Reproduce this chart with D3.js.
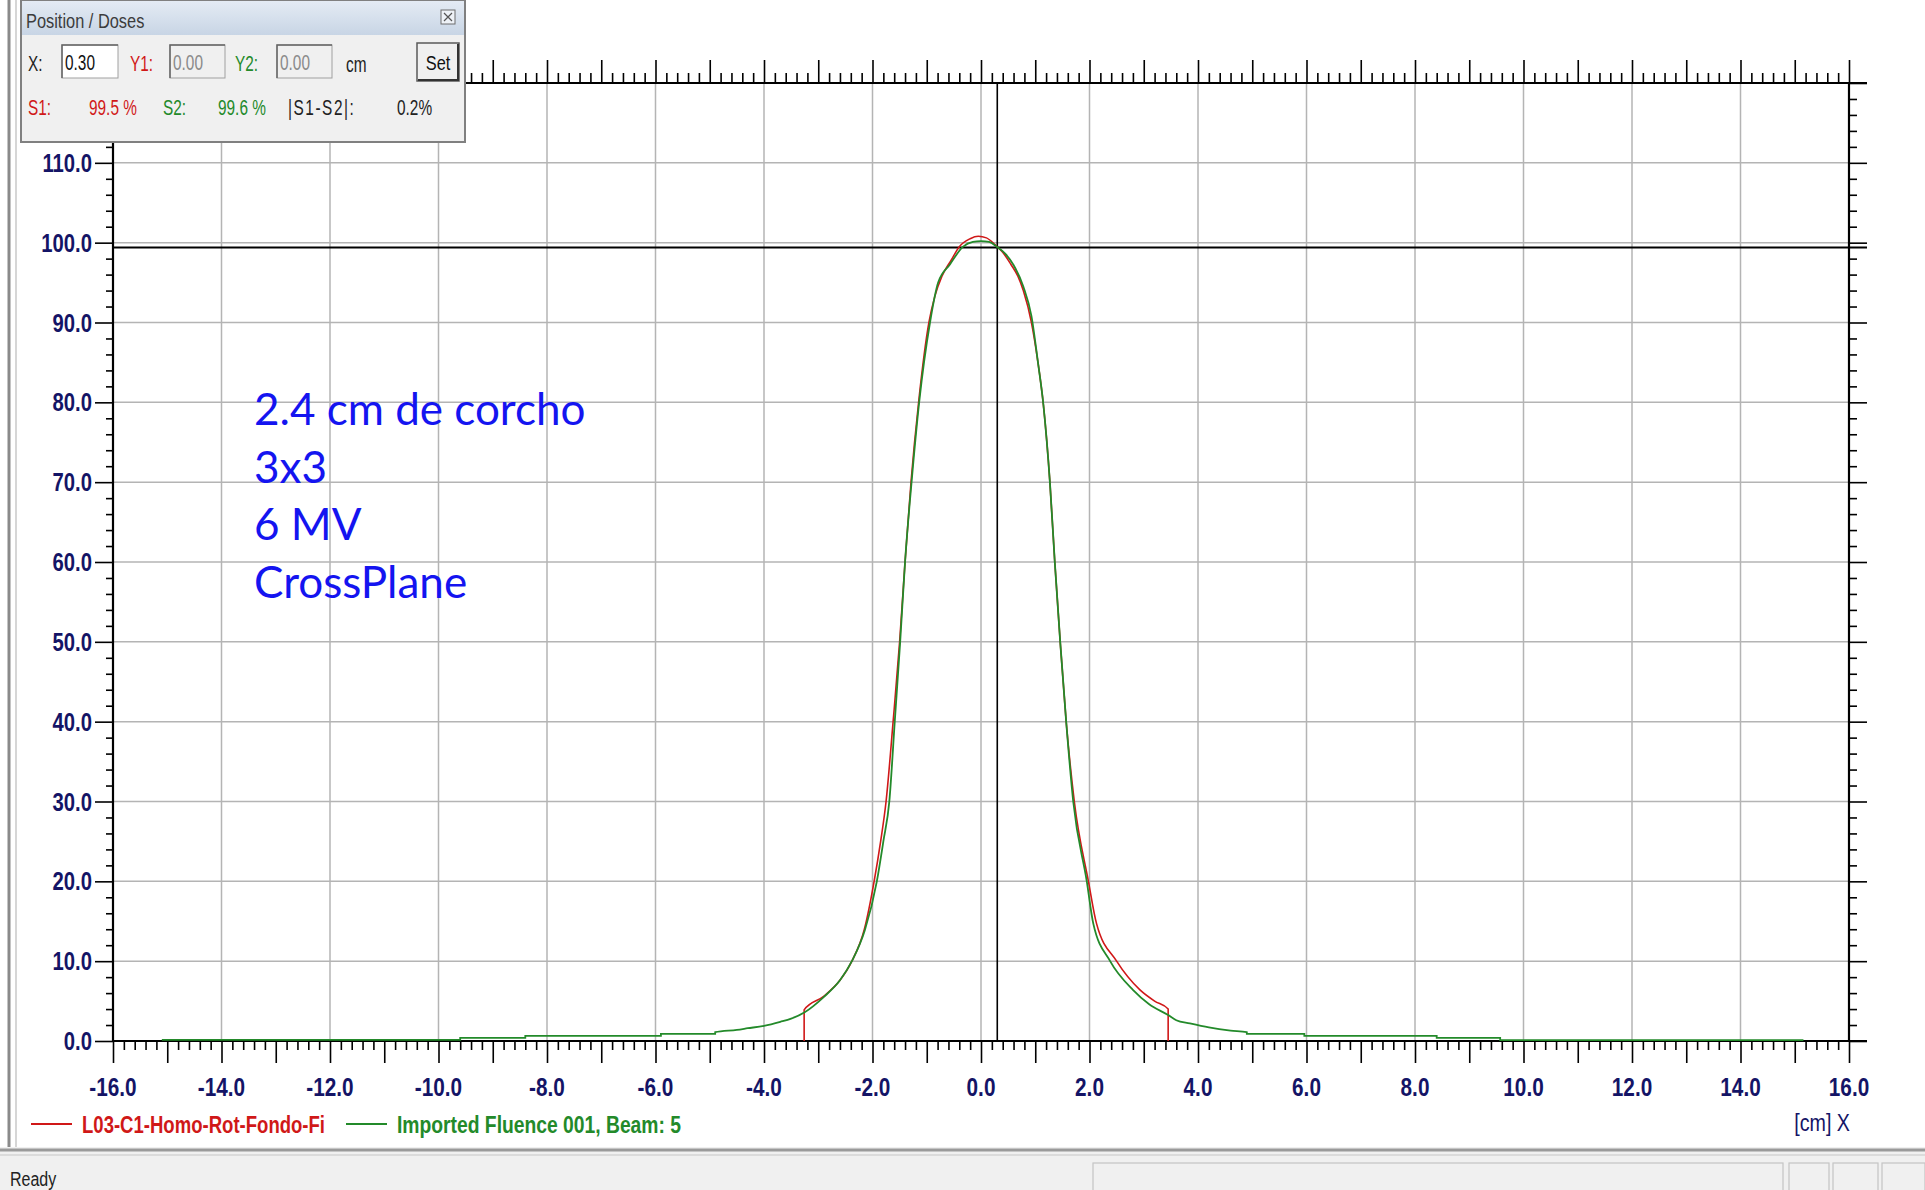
<!DOCTYPE html>
<html><head><meta charset="utf-8">
<script src="https://cdn.jsdelivr.net/npm/d3@7"></script>
<style>
html,body{margin:0;padding:0;background:#fff;overflow:hidden;}
svg{display:block;}
</style></head><body>
<svg id="c" width="1925" height="1190"></svg>
<script>
// ---------- data ----------
const xTicks = [-16,-14,-12,-10,-8,-6,-4,-2,0,2,4,6,8,10,12,14,16];
const xTickLabels = ["-16.0","-14.0","-12.0","-10.0","-8.0","-6.0","-4.0","-2.0","0.0","2.0","4.0","6.0","8.0","10.0","12.0","14.0","16.0"];
const yTicks = [0,10,20,30,40,50,60,70,80,90,100,110];
const yTickLabels = ["0.0","10.0","20.0","30.0","40.0","50.0","60.0","70.0","80.0","90.0","100.0","110.0"];

const seriesNames = ["L03-C1-Homo-Rot-Fondo-Fi", "Imported Fluence 001, Beam: 5"];

// Red measured profile (cm, %)
const redX = [-3.26,-3.26,-2.9,-2.6,-2.38,-2.15,-1.97,-1.85,-1.75,-1.62,-1.50,-1.40,-1.29,-1.15,-0.96,-0.85,-0.72,-0.55,-0.4,-0.2,-0.05,0.1,0.25,0.4,0.55,0.68,0.78,0.93,1.05,1.15,1.27,1.36,1.46,1.57,1.72,1.98,2.13,2.5,2.93,3.2,3.45,3.45];
const redY = [0,3.9,5.6,7.6,10,14,20,25,30,40,50,60,70,80,90,93.3,95.8,97.8,99.5,100.5,100.8,100.6,99.8,98.8,97.3,95.8,94,90,85,79.7,70,60,50,40,30,20,14.7,10,6.4,5,4.0,0];

// Green imported fluence profile (cm, %)
const greenX = [-15.1,-9.6,-9.6,-8.4,-8.4,-5.9,-5.9,-4.9,-4.9,-4.5,-4.3,-4.0,-3.7,-3.5,-3.25,-2.9,-2.6,-2.38,-2.14,-1.92,-1.80,-1.69,-1.59,-1.49,-1.40,-1.28,-1.14,-0.94,-0.79,-0.57,-0.33,-0.15,0.0,0.15,0.29,0.45,0.60,0.78,0.93,1.05,1.15,1.27,1.36,1.46,1.57,1.70,1.95,2.07,2.38,2.8,3.1,3.45,3.6,3.85,4.2,4.6,4.9,4.9,5.96,5.96,8.4,8.4,9.57,9.57,15.16];
const greenY = [0.15,0.15,0.4,0.4,0.65,0.65,0.9,0.9,1.1,1.4,1.6,1.9,2.4,2.8,3.6,5.5,7.6,10,13.9,20,25,30,40,50,60,70,80,90,95,97.3,99.5,100.1,100.2,100.1,99.5,98.6,97.2,94.5,90.8,85,79.7,70,60,50,40,30,20,14.7,10,6.4,4.6,3.25,2.6,2.2,1.7,1.3,1.1,0.9,0.9,0.65,0.65,0.4,0.4,0.12,0.12];

const cursorX = 0.30;
const cursorY = 99.4;

const annotationLines = ["2.4 cm de corcho", "3x3", "6 MV", "CrossPlane"];

// ---------- drawing ----------
const svg = d3.select("#c");
const SANS = "'Liberation Sans', Arial, sans-serif";
const navy = "#141466";
const RED = "#d01818";
const GREEN = "#238a2a";

// narrow text helper (horizontally condensed Liberation Sans)
function ntext(g, xp, yp, s, o){
  o = o || {};
  const el = g.append("text")
    .attr("transform",`translate(${xp},${yp}) scale(${o.sx||0.8},1)`)
    .attr("text-anchor",o.anchor||"start")
    .attr("font-family",SANS).attr("font-size",o.size||20)
    .attr("font-weight",o.bold?"bold":"normal")
    .attr("fill",o.fill||"#222").text(s);
  if (o.len) el.attr("textLength",o.len).attr("lengthAdjust","spacing");
  return el;
}

const x = d3.scaleLinear().domain([-16,16]).range([113,1849]);
const y = d3.scaleLinear().domain([0,120]).range([1041,83]);

svg.append("rect").attr("width",1925).attr("height",1190).attr("fill","#fff");

// grid
const gGrid = svg.append("g").attr("stroke","#b4b4b4").attr("stroke-width",1.5);
gGrid.selectAll("line.v").data(xTicks.filter(d=>d>-16 && d<16)).join("line")
  .attr("x1",d=>x(d)).attr("x2",d=>x(d)).attr("y1",y(0)).attr("y2",y(120));
gGrid.selectAll("line.h").data(yTicks.filter(d=>d>0)).join("line")
  .attr("x1",x(-16)).attr("x2",x(16)).attr("y1",d=>y(d)).attr("y2",d=>y(d));

// axes ticks via d3 axes
const majorX = d3.range(-16,17);
const minorX = d3.range(-80,81).filter(i=>i%5!==0).map(i=>i/5);
const majorY = yTicks;
const minorY = d3.range(0,61).filter(i=>i%5!==0).map(i=>i*2);

function styleAxis(g){
  g.select(".domain").remove();
  g.selectAll(".tick line").attr("stroke","#000").attr("stroke-width",1.6);
  g.selectAll("text").remove();
}
svg.append("g").attr("transform",`translate(0,${y(0)})`)
  .call(d3.axisBottom(x).tickValues(majorX).tickSize(22).tickSizeOuter(0)).call(styleAxis);
svg.append("g").attr("transform",`translate(0,${y(0)})`)
  .call(d3.axisBottom(x).tickValues(minorX).tickSize(9).tickSizeOuter(0)).call(styleAxis);
svg.append("g").attr("transform",`translate(0,${y(120)})`)
  .call(d3.axisTop(x).tickValues(majorX).tickSize(23).tickSizeOuter(0)).call(styleAxis);
svg.append("g").attr("transform",`translate(0,${y(120)})`)
  .call(d3.axisTop(x).tickValues(minorX).tickSize(10).tickSizeOuter(0)).call(styleAxis);
svg.append("g").attr("transform",`translate(${x(-16)},0)`)
  .call(d3.axisLeft(y).tickValues(majorY).tickSize(18).tickSizeOuter(0)).call(styleAxis);
svg.append("g").attr("transform",`translate(${x(-16)},0)`)
  .call(d3.axisLeft(y).tickValues(minorY).tickSize(7).tickSizeOuter(0)).call(styleAxis);
svg.append("g").attr("transform",`translate(${x(16)},0)`)
  .call(d3.axisRight(y).tickValues(majorY.concat([120])).tickSize(18).tickSizeOuter(0)).call(styleAxis);
svg.append("g").attr("transform",`translate(${x(16)},0)`)
  .call(d3.axisRight(y).tickValues(minorY).tickSize(8).tickSizeOuter(0)).call(styleAxis);

// axis lines
const gAx = svg.append("g").attr("stroke","#000").attr("stroke-width",2.2);
gAx.append("line").attr("x1",x(-16)).attr("x2",x(16)+18).attr("y1",y(0)).attr("y2",y(0));
gAx.append("line").attr("x1",x(-16)).attr("x2",x(16)+18).attr("y1",y(120)).attr("y2",y(120));
gAx.append("line").attr("x1",x(-16)).attr("x2",x(-16)).attr("y1",y(120)).attr("y2",y(0));
gAx.append("line").attr("x1",x(16)).attr("x2",x(16)).attr("y1",y(120)).attr("y2",y(0));

// tick labels
const gxl = svg.append("g");
xTicks.forEach((d,i)=>ntext(gxl, x(d), y(0)+55, xTickLabels[i], {anchor:"middle", size:25, bold:true, fill:navy, sx:0.83}));
const gyl = svg.append("g");
yTicks.forEach((d,i)=>ntext(gyl, x(-16)-21, y(d)+9, yTickLabels[i], {anchor:"end", size:25, bold:true, fill:navy, sx:0.81}));
ntext(svg, x(16)+1, 1131, "[cm] X", {anchor:"end", size:24, fill:navy, sx:0.82});

// cursor lines
svg.append("line").attr("x1",x(cursorX)).attr("x2",x(cursorX)).attr("y1",y(120)).attr("y2",y(0))
  .attr("stroke","#000").attr("stroke-width",1.6);
svg.append("line").attr("x1",x(-16)).attr("x2",x(16)+18).attr("y1",y(cursorY)).attr("y2",y(cursorY))
  .attr("stroke","#000").attr("stroke-width",2);

// curves
const line = d3.line().x(d=>x(d[0])).y(d=>y(d[1])).curve(d3.curveMonotoneX);
const greenData = greenX.map((v,i)=>[v,greenY[i]]);
const redData = redX.map((v,i)=>[v,redY[i]]);
svg.append("path").attr("d",line(redData)).attr("fill","none").attr("stroke",RED).attr("stroke-width",1.6);
svg.append("path").attr("d",line(greenData)).attr("fill","none").attr("stroke",GREEN).attr("stroke-width",1.8);

// annotation
svg.append("g").selectAll("text").data(annotationLines).join("text")
  .attr("x",254).attr("y",(d,i)=>425+i*57.5)
  .attr("font-family","Lato, 'Open Sans', sans-serif").attr("font-size",44).attr("fill","#1414f0")
  .text(d=>d);

// legend
const colors = [RED, GREEN];
const legX = [31, 346];
const legW = [243, 284];
const lg = svg.append("g");
seriesNames.forEach((n,i)=>{
  lg.append("line").attr("x1",legX[i]).attr("x2",legX[i]+41).attr("y1",1124).attr("y2",1124)
    .attr("stroke",colors[i]).attr("stroke-width",1.8);
  lg.append("text").attr("x",legX[i]+51).attr("y",1133)
    .attr("font-family",SANS).attr("font-weight","bold").attr("font-size",23)
    .attr("textLength",legW[i]).attr("lengthAdjust","spacingAndGlyphs")
    .attr("fill",colors[i]).text(n);
});

// window frame
svg.append("line").attr("x1",9).attr("x2",9).attr("y1",0).attr("y2",1152).attr("stroke","#8a8a8a").attr("stroke-width",3);
svg.append("line").attr("x1",16).attr("x2",16).attr("y1",0).attr("y2",1150).attr("stroke","#c8c8c8").attr("stroke-width",1.5);
svg.append("rect").attr("x",0).attr("y",1147).attr("width",1925).attr("height",43).attr("fill","#f0f0f0");
svg.append("line").attr("x1",0).attr("x2",1925).attr("y1",1150).attr("y2",1150).attr("stroke","#9a9a9a").attr("stroke-width",3);
svg.append("line").attr("x1",0).attr("x2",1925).attr("y1",1155).attr("y2",1155).attr("stroke","#d4d4d4").attr("stroke-width",1.5);
ntext(svg, 10, 1186, "Ready", {size:20, fill:"#222", sx:0.8});
[[1093,690],[1789,40],[1833,45],[1882,43]].forEach(p=>{
  svg.append("rect").attr("x",p[0]).attr("y",1163).attr("width",p[1]).attr("height",30)
    .attr("fill","none").attr("stroke","#c4c4c4").attr("stroke-width",1.2);
});

// Position / Doses panel
const defs = svg.append("defs");
const gr = defs.append("linearGradient").attr("id","tb").attr("x1",0).attr("y1",0).attr("x2",0).attr("y2",1);
gr.append("stop").attr("offset","0%").attr("stop-color","#e4ebf4");
gr.append("stop").attr("offset","100%").attr("stop-color","#c8d5e5");
const p = svg.append("g");
p.append("rect").attr("x",21).attr("y",0).attr("width",444).attr("height",142).attr("fill","#f0f0f0").attr("stroke","#808080").attr("stroke-width",2);
p.append("rect").attr("x",22).attr("y",1).attr("width",442).attr("height",34).attr("fill","url(#tb)");
ntext(p, 26, 28, "Position / Doses", {size:20, fill:"#3c3c3c", sx:0.82});
p.append("rect").attr("x",441).attr("y",10).attr("width",14).attr("height",14).attr("fill","#eef2f7").attr("stroke","#6c6c6c").attr("stroke-width",1);
p.append("path").attr("d","M444,13 L452,21 M452,13 L444,21").attr("stroke","#555").attr("stroke-width",1.2);

function t(xp, yp, s, c, len){ ntext(p, xp, yp, s, {size:22, fill:c, sx:0.7, len:len}); }
function box(xp, w, fill){
  p.append("rect").attr("x",xp).attr("y",45).attr("width",w).attr("height",33).attr("fill",fill).attr("stroke","#a0a0a0").attr("stroke-width",1);
  p.append("path").attr("d",`M${xp},78 L${xp},45 L${xp+w},45`).attr("fill","none").attr("stroke","#646464").attr("stroke-width",1.5);
}
t(28,71,"X:","#222");
box(62,56,"#fff"); t(65,70,"0.30","#111");
t(130,71,"Y1:",RED);
box(170,55,"#f0f0f0"); t(173,70,"0.00","#8a8a8a");
t(235,71,"Y2:",GREEN);
box(277,55,"#f0f0f0"); t(280,70,"0.00","#8a8a8a");
t(346,72,"cm","#222");
p.append("rect").attr("x",417).attr("y",43).attr("width",42).attr("height",38).attr("fill","#f0f0f0").attr("stroke","#5a5a5a").attr("stroke-width",1.5);
p.append("path").attr("d","M418,80 L458,80 L458,44").attr("fill","none").attr("stroke","#333").attr("stroke-width",2);
ntext(p, 438, 70, "Set", {size:21, fill:"#111", sx:0.78, anchor:"middle"});
t(28,115,"S1:",RED);
t(89,115,"99.5 %",RED);
t(163,115,"S2:",GREEN);
t(218,115,"99.6 %",GREEN);
t(288,115,"|S1-S2|:","#222",94);
t(397,115,"0.2%","#222");
</script>
</body></html>
